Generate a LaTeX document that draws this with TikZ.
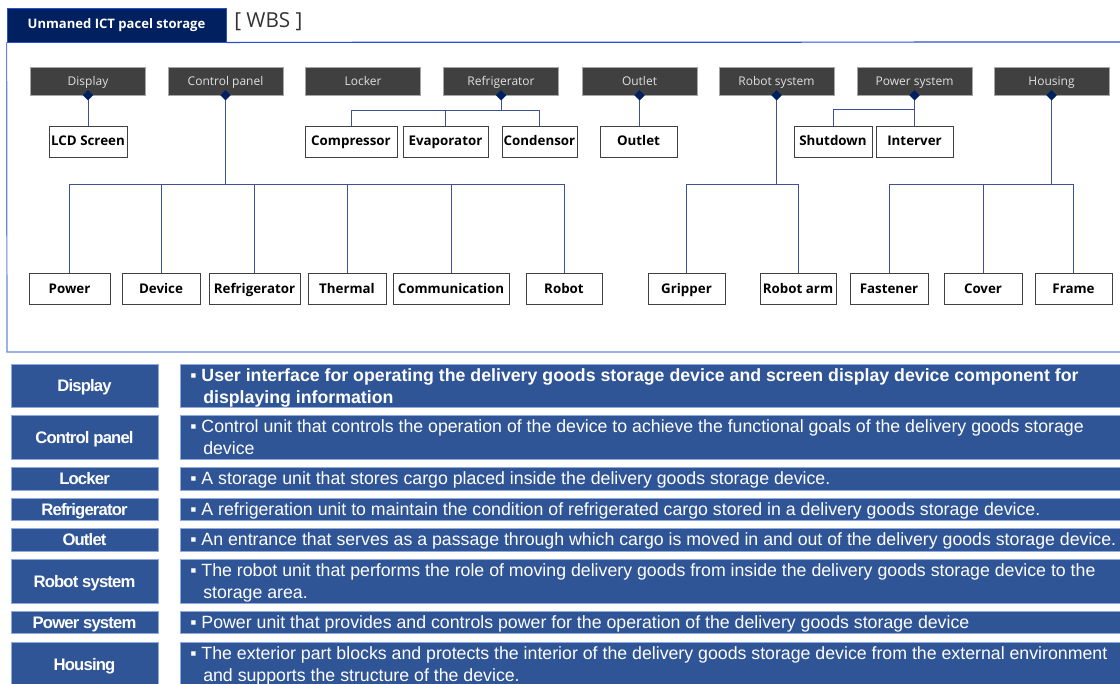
\documentclass[tikz,border=0pt]{standalone}
\usepackage{fontspec}
\setmainfont{Liberation Sans}
\newfontfamily\diagfont{Open Sans}
\newfontfamily\labfont[LetterSpace=-5]{Liberation Sans}
\usetikzlibrary{shapes.geometric,fit}
\definecolor{navy}{RGB}{0,32,96}
\definecolor{framecol}{RGB}{100,136,215}
\definecolor{topline}{RGB}{40,80,210}
\definecolor{hdrgray}{RGB}{64,64,64}
\definecolor{conncol}{RGB}{60,82,150}
\definecolor{cellblue}{RGB}{47,85,151}
\definecolor{cellborder}{RGB}{143,170,220}
\newcommand\tabrow[4]{%
  \node[rcellL, fit={(11,#2)(158,#3)}] (#1L) {};
  \node[lab] (#1Lt) at ([yshift=-1.5pt]#1L.center) {#4};
  \node[rcell, fit={(180,#2)(1125,#3)}] (#1R) {};
}
\begin{document}
\begin{tikzpicture}[x=0.75pt,y=-0.75pt,
  hdr/.style={fill=hdrgray, draw=gray!70, minimum width=86.25pt, minimum height=21pt, inner sep=0pt,
    text height=1.45ex, text depth=0.3ex,
    text=white!88!black, font=\diagfont\fontsize{9}{10}\selectfont},
  item/.style={fill=white, draw=black!75, line width=0.6pt, minimum height=23.25pt, inner sep=0pt,
    text height=1.45ex, text depth=0.3ex,
    font=\diagfont\bfseries\fontsize{10}{12}\selectfont, minimum width=#1*0.75pt},
  dia/.style={diamond, fill=navy, inner sep=0pt, minimum size=8pt},
  conn/.style={draw=conncol, line width=0.75pt},
  rcellL/.style={fill=cellblue, draw=cellborder, line width=0.6pt, inner sep=0pt},
  lab/.style={inner sep=0pt, text=white, text height=1.5ex, text depth=0.3ex,
    font=\labfont\bfseries\fontsize{12.5}{14}\selectfont},
  rcell/.style={fill=cellblue, draw=cellborder, line width=0.6pt, inner sep=0pt},
  rtext/.style={anchor=base west, inner sep=0pt, text=white, font=\fontsize{13.3}{15}\selectfont},
  rbold/.style={rtext, font=\bfseries\fontsize{13.3}{15}\selectfont},
]
\useasboundingbox (0,0) rectangle (1120,683);
\clip (0,0) rectangle (1120,683);

% title tab and frame
\node[fill=navy, draw=topline, line width=0.6pt, fit={(7,8)(226,42)}, inner sep=0pt] (title) {};
\node[inner sep=0pt, text=white, font=\diagfont\bfseries\fontsize{9.8}{11}\selectfont] (titlet) at (title.center) {Unmaned ICT pacel storage};
\node[anchor=west, inner sep=0pt, font=\diagfont\fontsize{15.5}{18}\selectfont, text=black!80] (wbs) at (234,22) {[ WBS ]};
\draw[topline, line width=0.9pt] (title.south east) -- (1125,42);
\draw[framecol, line width=0.9pt] (title.south west) -- (7,352) -- (1125,352);

% level 1
\node[hdr] (disp) at (88,81) {Display};
\node[hdr] (cpan) at (225.5,81) {Control panel};
\node[hdr] (lock) at (363,81) {Locker};
\node[hdr] (refr) at (501,81) {Refrigerator};
\node[hdr] (outl) at (639.5,81) {Outlet};
\node[hdr] (robs) at (776.5,81) {Robot system};
\node[hdr] (pows) at (914.5,81) {Power system};
\node[hdr] (hous) at (1051.5,81) {Housing};

% level 2
\node[item=78] (lcd) at (88,141.5) {LCD Screen};
\node[item=92] (comp) at (351,141.5) {Compressor};
\node[item=85] (evap) at (445.5,141.5) {Evaporator};
\node[item=75] (cond) at (539.5,141.5) {Condensor};
\node[item=77] (outb) at (638.5,141.5) {Outlet};
\node[item=78] (shut) at (833,141.5) {Shutdown};
\node[item=77] (intv) at (914.5,141.5) {Interver};

% level 3
\node[item=81] (pow) at (69.5,289) {Power};
\node[item=78] (dev) at (161,289) {Device};
\node[item=91] (cref) at (254.5,289) {Refrigerator};
\node[item=78] (ther) at (347,289) {Thermal};
\node[item=116] (comm) at (451,289) {Communication};
\node[item=76] (rob) at (564,289) {Robot};
\node[item=77] (grip) at (686.5,289) {Gripper};
\node[item=76] (arm) at (798,289) {Robot arm};
\node[item=78] (fast) at (889,289) {Fastener};
\node[item=78] (cov) at (983,289) {Cover};
\node[item=77] (fram) at (1073.5,289) {Frame};

% buses
\coordinate (refbus) at (0,110);
\coordinate (powbus) at (0,109);
\coordinate (lowbus) at (0,184);

% connectors
\draw[conn] (disp.south) -- (lcd.north);
\draw[conn] (outl.south) -- (outl.south |- outb.north);
\foreach \c in {comp,evap,cond}{\draw[conn] (refr.south) -- (refr.south |- refbus) -| (\c.north);}
\foreach \c in {shut,intv}{\draw[conn] (pows.south) -- (pows.south |- powbus) -| (\c.north);}
\foreach \c in {pow,dev,cref,ther,comm,rob}{\draw[conn] (cpan.south) -- (cpan.south |- lowbus) -| (\c.north);}
\foreach \c in {grip,arm}{\draw[conn] (robs.south) -- (robs.south |- lowbus) -| (\c.north);}
\foreach \c in {fast,cov,fram}{\draw[conn] (hous.south) -- (hous.south |- lowbus) -| (\c.north);}

% diamonds
\foreach \p in {disp,cpan,refr,outl,robs,pows,hous}{\node[dia] (d\p) at (\p.south) {};}

% table
\tabrow{r1}{364}{407}{Display}
\tabrow{r2}{415}{459}{Control panel}
\tabrow{r3}{467}{490}{Locker}
\tabrow{r4}{498}{520}{Refrigerator}
\tabrow{r5}{528}{551}{Outlet}
\tabrow{r6}{559}{603}{Robot system}
\tabrow{r7}{611}{633}{Power system}
\tabrow{r8}{642}{686}{Housing}

\node[rbold] (t1a) at (190,381.5) {▪ User interface for operating the delivery goods storage device and screen display device component for};
\node[rbold] (t1b) at (203,403.5) {displaying information};
\node[rtext] (t2a) at (190,432.5) {▪ Control unit that controls the operation of the device to achieve the functional goals of the delivery goods storage};
\node[rtext] (t2b) at (203,454.5) {device};
\node[rtext] (t3) at (190,484.5) {▪ A storage unit that stores cargo placed inside the delivery goods storage device.};
\node[rtext] (t4) at (190,515) {▪ A refrigeration unit to maintain the condition of refrigerated cargo stored in a delivery goods storage device.};
\node[rtext] (t5) at (190,545.5) {▪ An entrance that serves as a passage through which cargo is moved in and out of the delivery goods storage device.};
\node[rtext] (t6a) at (190,576.5) {▪ The robot unit that performs the role of moving delivery goods from inside the delivery goods storage device to the};
\node[rtext] (t6b) at (203,598.5) {storage area.};
\node[rtext] (t7) at (190,628) {▪ Power unit that provides and controls power for the operation of the delivery goods storage device};
\node[rtext] (t8a) at (190,659) {▪ The exterior part blocks and protects the interior of the delivery goods storage device from the external environment};
\node[rtext] (t8b) at (203,681) {and supports the structure of the device.};
\end{tikzpicture}
\end{document}
